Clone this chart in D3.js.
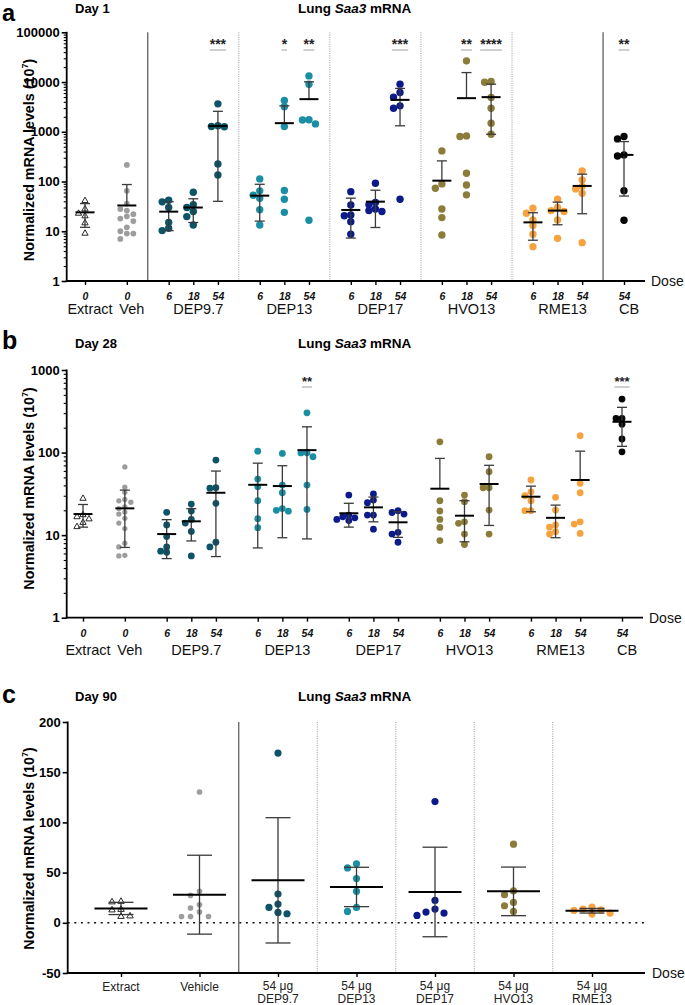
<!DOCTYPE html>
<html><head><meta charset="utf-8">
<script src="https://cdn.jsdelivr.net/npm/d3@7"></script>
<style>
body{margin:0;background:#fff}
svg{display:block}
text{font-family:Arial,"Liberation Sans",Helvetica,sans-serif}
</style>
</head><body>
<svg id="chart" width="685" height="1005"></svg>
<script>
// ---------------- DATA ----------------
// Panels a & b: columns (group + dose)
const colGroup = ["Extract","Veh","DEP9.7","DEP9.7","DEP9.7","DEP13","DEP13","DEP13","DEP17","DEP17","DEP17","HVO13","HVO13","HVO13","RME13","RME13","RME13","CB"];
const colDose  = ["0","0","6","18","54","6","18","54","6","18","54","6","18","54","6","18","54","54"];
const groupLabelsAB = ["Extract","Veh","DEP9.7","DEP13","DEP17","HVO13","RME13","CB"];

// Panel a: Day 1
const pointsA = [
  [42.6,29,23.7,21,15.2,9.4],
  [216,65,36,28,26,22,20,18,16,12,10,9,9,7],
  [42,39,30,15,11.5,10.3],
  [61,34,30,25,19.7,13.4],
  [3640,1320,1280,1260,226,135],
  [113,65,53,46,27,13.4],
  [4250,3200,1270,66,44,24],
  [13300,9000,1740,1720,1440,16.6],
  [62.6,33.8,21.3,20.5,15.6,8.7],
  [92,38,34,28,26,25],
  [9060,6150,4950,3320,2980,44],
  [413,89.5,73,28,18.8,8.4],
  [26700,826,801,147,85,54],
  [10240,9900,4880,2980,1490,895],
  [29,23,16.9,13,8.7,4.9],
  [44,30,26,25,16.9,7.2],
  [163,108,80,71,58,5.9],
  [801,720,343,327,65.6,16.6]
];
const meanA = [24,33,24.8,30,1310,52,1490,4530,26.8,39.4,4380,104,4740,4970,15.1,26,81.5,343];
const sdA   = [12,54,14.5,15,1270,36,1830,5570,19.5,27.5,3060,156,10760,4080,8.5,12.5,59,292];
const sigA  = ["","","","","***","","*","**","","","***","","**","****","","","","**"];

// Panel b: Day 28
const pointsB = [
  [28.4,18,17,16,14.5,12.9],
  [67,38,33,27,26,25,22,21,19,18,16,14,12,8,7.2,5.7,5.6],
  [18.9,13.3,9.6,7.2,6.4,6.2],
  [23.8,19.6,15.5,14,11.1,5.6],
  [81,37.5,37,24.3,8.2,7.2],
  [104,47.8,38.5,26.1,15.8,12.3],
  [97.7,40.4,32.6,21,20,19.5],
  [303,99.5,99,89,40.4,20.5],
  [30.6,17.5,16.7,16.2,15.5,15],
  [31.5,26.6,24.7,17.5,17.5,11.8],
  [19.8,18.8,18,10.8,10.3,8.2],
  [135,26.1,19.6,15.5,12.4,8.6],
  [30.6,25.4,14.5,13.9,10.3,7.7],
  [89,58.6,37.5,37.5,20.1,10.3],
  [46.5,33.5,30,26.1,19.8,19.8],
  [28.7,20.1,13.3,12.5,11,10.3],
  [160,42.4,32.6,14.5,13.6,10.5],
  [444,259,259,221,146,102]
];
const meanB = [18,21.1,10.3,14.7,32.6,40.7,39.3,107,18.4,21.7,14.3,36.5,17.2,41.6,29.2,16.2,46.5,236];
const sdB   = [5.5,14,5.1,6.2,27.1,33.7,30,98,5.9,7.2,4.9,48.5,8.9,28.5,10,6.9,57.5,117];
const sigB  = ["","","","","","","","**","","","","","","","","","","***"];

// Panel c: Day 90
const groupsC = ["Extract","Vehicle","DEP9.7","DEP13","DEP17","HVO13","RME13"];
const doseC   = ["","","54 μg","54 μg","54 μg","54 μg","54 μg"];
const pointsC = [
  [22,21.5,14,13.5,7.5,7],
  [130.3,31.3,27.3,18,14.7,10.7,6.3,6.3,6.3],
  [169,28.7,18.7,15.3,10.3,9],
  [58.7,54.7,44,31.3,15.3,11.3],
  [120.7,22.3,13.7,10.7,9.7,7.3],
  [78.3,31.7,28,20.3,17,11.3],
  [15.7,13.7,13,12.3,9.7,8.7]
];
const meanC = [14.3,28,42.3,35.7,30.7,31.3,12];
const sdC   = [6.1,39.3,62.4,19.6,44.6,24.2,2.3];
const yTicksC = [-50,0,50,100,150,200];
const yTicksLog = [1,10,100,1000,10000,100000];

// ---------------- STYLE ----------------
const colors = {"Extract":"#000","Veh":"#9d9d9d","Vehicle":"#9d9d9d","DEP9.7":"#0d5468","DEP13":"#1a8fa3",
  "DEP17":"#0c1a8a","HVO13":"#8b7c3a","RME13":"#f7a23f","CB":"#050505"};
const FONT = 'Arial,"Liberation Sans",sans-serif';
const svg = d3.select("#chart");

// x layout units for a/b (within-group step 1, between groups 1.7)
const colUnit = [];
{ let u = 0; colGroup.forEach((g,i)=>{ if(i>0) u += (g===colGroup[i-1]?1:1.7); colUnit.push(u); }); }
const maxUnit = colUnit[colUnit.length-1];

function swarm(vals, yS, step, rowH){
  const pts = vals.map(v=>({v, y:yS(v)})).sort((a,b)=>a.y-b.y);
  const placed=[];
  pts.forEach(p=>{
    for(let k=0;k<40;k++){
      const off = k===0?0:(k%2?-1:1)*Math.ceil(k/2)*step;
      if(!placed.some(q=>Math.abs(q.y-p.y)<rowH && Math.abs(q.dx-off)<step*0.99)){p.dx=off;placed.push(p);break;}
    }
  });
  return pts;
}

function drawPoints(g, vals, cx, yS, group, r, step, rowH, triSize){
  const pts = swarm(vals, yS, step, rowH);
  if(group==="Extract"){
    g.selectAll(null).data(pts).enter().append("path")
      .attr("d", d3.symbol(d3.symbolTriangle).size(triSize))
      .attr("transform", d=>`translate(${cx+d.dx},${d.y+0.8})`)
      .attr("fill","#fff").attr("stroke","#111").attr("stroke-width",0.9);
  } else {
    g.selectAll(null).data(pts).enter().append("circle")
      .attr("cx", d=>cx+d.dx).attr("cy", d=>d.y)
      .attr("r", (group==="Veh"||group==="Vehicle")? r*0.78 : r)
      .attr("fill", colors[group]);
  }
}

function drawErr(g, cx, yS, mean, sd, meanHalf, capHalf, isLog){
  const up = mean+sd, lo = mean-sd;
  const yTop = yS(up), yM = yS(mean);
  const hasLo = !isLog || lo>0;
  const yLo = hasLo ? yS(lo) : yM;
  g.append("line").attr("x1",cx).attr("x2",cx).attr("y1",yTop).attr("y2",yLo)
    .attr("stroke","#3a3a3a").attr("stroke-width",1.3);
  g.append("line").attr("x1",cx-capHalf).attr("x2",cx+capHalf).attr("y1",yTop).attr("y2",yTop)
    .attr("stroke","#3a3a3a").attr("stroke-width",1.3);
  if(hasLo) g.append("line").attr("x1",cx-capHalf).attr("x2",cx+capHalf).attr("y1",yLo).attr("y2",yLo)
    .attr("stroke","#3a3a3a").attr("stroke-width",1.3);
  g.append("line").attr("x1",cx-meanHalf).attr("x2",cx+meanHalf).attr("y1",yM).attr("y2",yM)
    .attr("stroke","#000").attr("stroke-width",2);
}

function titles(letter, day, base, letterBase, letterSize){
  svg.append("text").attr("x",2).attr("y",letterBase).attr("font-size",letterSize).attr("font-weight","bold").text(letter);
  svg.append("text").attr("x",75).attr("y",base).attr("font-size",13).attr("font-weight","bold").text(day);
  const t = svg.append("text").attr("x",298).attr("y",base).attr("font-size",13.5).attr("font-weight","bold");
  t.append("tspan").text("Lung ");
  t.append("tspan").attr("font-style","italic").text("Saa3");
  t.append("tspan").text(" mRNA");
}

function yLabel(cy){
  const t = svg.append("text").attr("transform",`translate(34,${cy}) rotate(-90)`)
    .attr("text-anchor","middle").attr("font-size",14.3).attr("font-weight","bold");
  t.append("tspan").text("Normalized mRNA levels (10");
  t.append("tspan").attr("font-size",9).attr("dy",-6).text("7");
  t.append("tspan").attr("dy",6).text(")");
}

function logPanel(opts){
  const {yS, xS, points, means, sds, sigs, x0, xEnd, yTop, yBot, doseBase, groupBase, doseWordBase, seps, sigBase, r, step, rowH, sigFont} = opts;
  const g = svg.append("g");
  // separators
  if(seps){
    colGroup.forEach((gname,i)=>{
      if(i>0 && gname!==colGroup[i-1]){
        const prev = colGroup[i-1];
        let type = null;
        if(prev==="Veh" || gname==="CB") type="solid";
        else if(prev!=="Extract") type="dot";
        if(!type) return;
        const sx = (xS(colUnit[i])+xS(colUnit[i-1]))/2;
        g.append("line").attr("x1",sx).attr("x2",sx).attr("y1",yTop).attr("y2",yBot)
          .attr("stroke", type==="solid"?"#555":"#9a9a9a")
          .attr("stroke-width", type==="solid"?1.2:1)
          .attr("stroke-dasharray", type==="solid"?null:"1,1.3");
      }
    });
  }
  // y axis major
  const ya = g.append("g").attr("transform",`translate(${x0},0)`)
    .call(d3.axisLeft(yS).tickValues(yTicksLog.filter(v=>v>=yS.domain()[0]&&v<=yS.domain()[1])).tickFormat(d3.format("d")).tickSize(5).tickPadding(2));
  ya.select(".domain").remove();
  ya.selectAll("line").attr("stroke","#000").attr("stroke-width",1.6);
  ya.selectAll("text").attr("font-size",13).attr("font-weight","bold").attr("font-family",FONT).attr("fill","#000");
  // minor
  const minors=[];
  const [d0,d1] = yS.domain();
  for(let p=d0;p<d1;p*=10) for(let k=2;k<=9;k++) minors.push(p*k);
  const ym = g.append("g").attr("transform",`translate(${x0},0)`)
    .call(d3.axisLeft(yS).tickValues(minors).tickFormat("").tickSize(3));
  ym.select(".domain").remove();
  ym.selectAll("line").attr("stroke","#000").attr("stroke-width",1.1);
  // x axis ticks with dose labels
  const xa = g.append("g").attr("transform",`translate(0,${yBot})`)
    .call(d3.axisBottom(xS).tickValues(colUnit).tickFormat((d,i)=>colDose[i]).tickSize(4).tickPadding(5));
  xa.select(".domain").remove();
  xa.selectAll("line").attr("stroke","#000").attr("stroke-width",1.4);
  xa.selectAll("text").attr("font-size",10.5).attr("font-weight","bold").attr("font-style","italic")
    .attr("font-family",FONT).attr("fill","#111").attr("y",null).attr("dy",null)
    .attr("transform",`translate(0,${doseBase-yBot})`);
  // axis lines
  g.append("line").attr("x1",x0).attr("x2",x0).attr("y1",yTop-0.5).attr("y2",yBot+0.8).attr("stroke","#000").attr("stroke-width",1.8);
  g.append("line").attr("x1",x0-0.9).attr("x2",xEnd).attr("y1",yBot).attr("y2",yBot).attr("stroke","#000").attr("stroke-width",1.8);
  // group labels
  groupLabelsAB.forEach(gname=>{
    const idx = colGroup.map((g2,i)=>g2===gname?i:-1).filter(i=>i>=0);
    const cx = (xS(colUnit[idx[0]])+xS(colUnit[idx[idx.length-1]]))/2 + 5;
    g.append("text").attr("x",cx).attr("y",groupBase).attr("text-anchor","middle")
      .attr("font-size",14.5).attr("fill","#111").text(gname);
  });
  g.append("text").attr("x",xEnd+6).attr("y",doseWordBase).attr("font-size",14).attr("fill","#111").text("Dose");
  // points + error bars
  points.forEach((vals,i)=>{
    drawPoints(g, vals, xS(colUnit[i]), yS, colGroup[i], r, step, rowH, 17);
  });
  points.forEach((vals,i)=>{
    drawErr(g, xS(colUnit[i]), yS, means[i], sds[i], 9.5, 5, true);
  });
  // significance
  sigs.forEach((s,i)=>{
    if(!s) return;
    const cx = xS(colUnit[i]);
    const t = g.append("text").attr("x",cx).attr("y",sigBase).attr("text-anchor","middle")
      .attr("font-size",sigFont).attr("font-weight","bold").attr("fill","#222").text(s);
    const w = t.node().getComputedTextLength();
    g.append("line").attr("x1",cx-w/2).attr("x2",cx+w/2).attr("y1",sigBase+1.5).attr("y2",sigBase+1.5)
      .attr("stroke","#a0a0a0").attr("stroke-width",1);
  });
}

// ---------- Panel a ----------
titles("a","Day 1",13,21.3,23.5);
yLabel(160);
const yA = d3.scaleLog().domain([1,100000]).range([281,32.3]);
const xA = d3.scaleLinear().domain([0,maxUnit]).range([85,624]);
logPanel({yS:yA, xS:xA, points:pointsA, means:meanA, sds:sdA, sigs:sigA, x0:66.7, xEnd:645,
  yTop:32.3, yBot:281, doseBase:300, groupBase:314, doseWordBase:285.5, seps:true, sigBase:48.5,
  r:3.7, step:6.5, rowH:5.5, sigFont:14});

// ---------- Panel b ----------
titles("b","Day 28",348,349,25);
yLabel(488.5);
const yB = d3.scaleLog().domain([1,1000]).range([617.7,370]);
const xB = d3.scaleLinear().domain([0,maxUnit]).range([83,622]);
logPanel({yS:yB, xS:xB, points:pointsB, means:meanB, sds:sdB, sigs:sigB, x0:66.7, xEnd:643,
  yTop:370, yBot:617.7, doseBase:637, groupBase:655, doseWordBase:622.5, seps:false, sigBase:385.5,
  r:3.4, step:6, rowH:5, sigFont:13});

// ---------- Panel c ----------
titles("c","Day 90",701,703,25);
yLabel(848.5);
{
  const yC = d3.scaleLinear().domain([-50,200]).range([973,722]);
  const xC = d3.scalePoint().domain(groupsC).range([121,592]);
  const g = svg.append("g");
  const x0 = 67.7, xEnd = 645, yBot = 973, yTop = 722;
  // separators
  groupsC.forEach((gname,i)=>{
    if(i<2) return;
    const sx = (xC(groupsC[i])+xC(groupsC[i-1]))/2;
    const solid = i===2;
    g.append("line").attr("x1",sx).attr("x2",sx).attr("y1",yTop).attr("y2",yBot)
      .attr("stroke", solid?"#555":"#9a9a9a").attr("stroke-width", solid?1.2:1)
      .attr("stroke-dasharray", solid?null:"1,1.3");
  });
  // zero line
  g.append("line").attr("x1",x0).attr("x2",xEnd).attr("y1",yC(0)).attr("y2",yC(0))
    .attr("stroke","#111").attr("stroke-width",1.6).attr("stroke-dasharray","2,4.6");
  const ya = g.append("g").attr("transform",`translate(${x0},0)`)
    .call(d3.axisLeft(yC).tickValues(yTicksC).tickFormat(d=>String(d)).tickSize(5).tickPadding(2));
  ya.select(".domain").remove();
  ya.selectAll("line").attr("stroke","#000").attr("stroke-width",1.6);
  ya.selectAll("text").attr("font-size",13).attr("font-weight","bold").attr("font-family",FONT).attr("fill","#000");
  const xa = g.append("g").attr("transform",`translate(0,${yBot})`)
    .call(d3.axisBottom(xC).tickSize(4).tickFormat(""));
  xa.select(".domain").remove();
  xa.selectAll("line").attr("stroke","#000").attr("stroke-width",1.4);
  g.append("line").attr("x1",x0).attr("x2",x0).attr("y1",yTop-0.5).attr("y2",yBot+0.8).attr("stroke","#000").attr("stroke-width",1.8);
  g.append("line").attr("x1",x0-0.9).attr("x2",xEnd).attr("y1",yBot).attr("y2",yBot).attr("stroke","#000").attr("stroke-width",1.8);
  groupsC.forEach((gname,i)=>{
    const cx = xC(gname);
    if(doseC[i]){
      g.append("text").attr("x",cx).attr("y",990).attr("text-anchor","middle").attr("font-size",12).attr("fill","#222").text(doseC[i]);
      g.append("text").attr("x",cx).attr("y",1002.5).attr("text-anchor","middle").attr("font-size",12).attr("fill","#222").text(gname);
    } else {
      g.append("text").attr("x",cx).attr("y",991).attr("text-anchor","middle").attr("font-size",12).attr("fill","#222").text(gname);
    }
  });
  g.append("text").attr("x",xEnd+7).attr("y",978).attr("font-size",14).attr("fill","#111").text("Dose");
  pointsC.forEach((vals,i)=>drawPoints(g, vals, xC(groupsC[i]), yC, groupsC[i], 3.6, 9, 7, 18));
  pointsC.forEach((vals,i)=>drawErr(g, xC(groupsC[i]), yC, meanC[i], sdC[i], 26.5, 12.5, false));
}
</script>
</body></html>
